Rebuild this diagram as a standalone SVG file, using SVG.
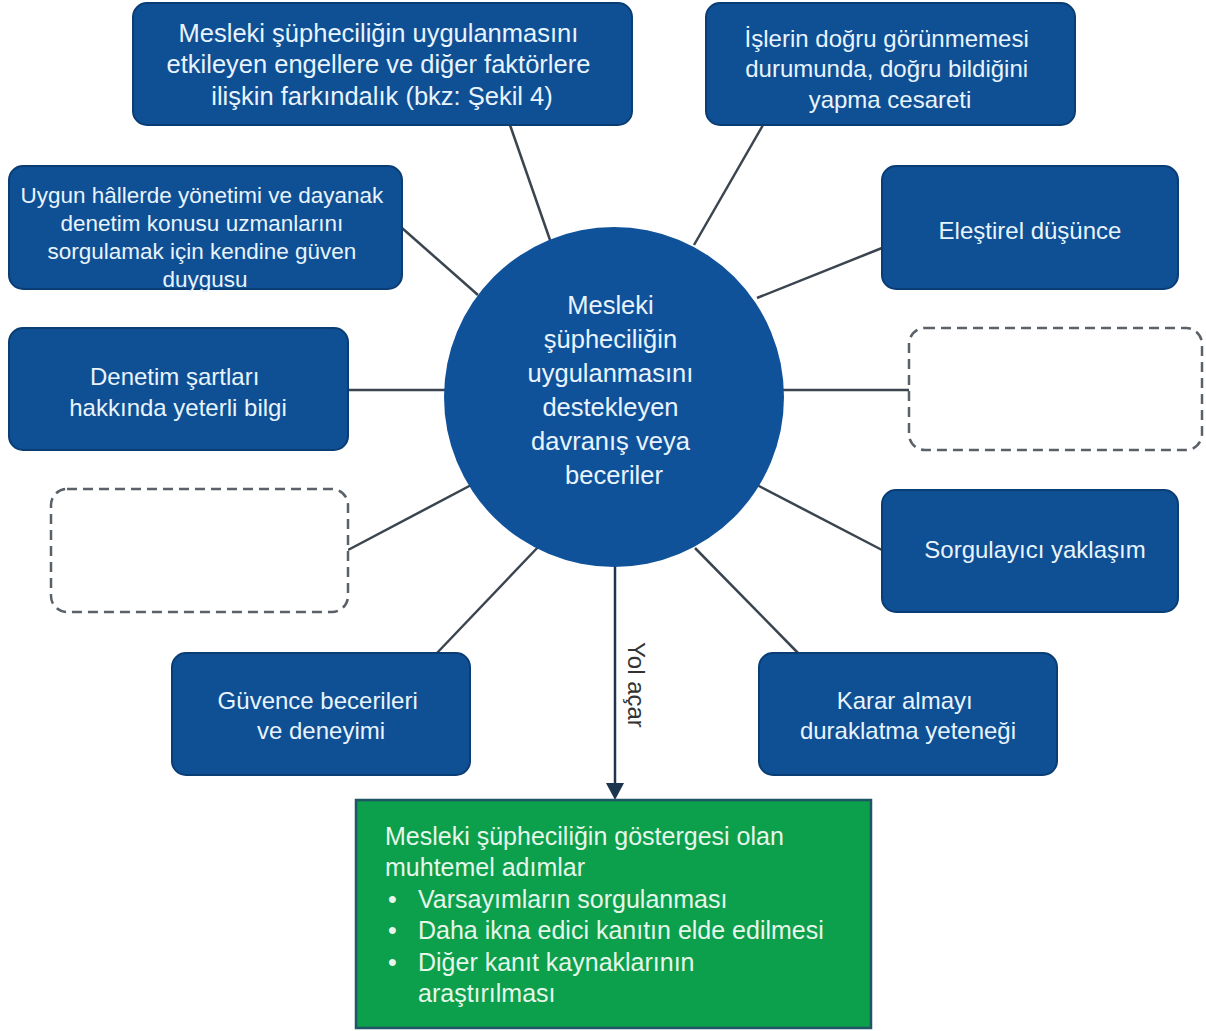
<svg xmlns="http://www.w3.org/2000/svg" width="1206" height="1031" viewBox="0 0 1206 1031">
<style>
.box{fill:#0f4f93;stroke:#0b3d75;stroke-width:2}
.dash{fill:#ffffff;stroke:#5a6169;stroke-width:2.5;stroke-dasharray:10 6}
.t{font-family:"Liberation Sans",Arial,sans-serif;fill:#e8f4ff;text-anchor:middle}
.g{font-family:"Liberation Sans",Arial,sans-serif;fill:#e6f7ea;font-size:25px}
.conn{stroke:#3a4550;stroke-width:2.5;fill:none}
</style>
<rect width="1206" height="1031" fill="#ffffff"/>
<g id="connectors">
<line class="conn" x1="510" y1="125" x2="550" y2="240"/>
<line class="conn" x1="763" y1="125" x2="694" y2="245"/>
<line class="conn" x1="402" y1="228" x2="478" y2="295"/>
<line class="conn" x1="882" y1="248" x2="757" y2="298"/>
<line class="conn" x1="348" y1="390" x2="450" y2="390"/>
<line class="conn" x1="909" y1="390" x2="780" y2="390"/>
<line class="conn" x1="348" y1="550" x2="475" y2="483"/>
<line class="conn" x1="882" y1="550" x2="757" y2="485"/>
<line class="conn" x1="437" y1="653" x2="540" y2="545"/>
<line class="conn" x1="798" y1="653" x2="695" y2="548"/>
<line x1="615" y1="560" x2="615" y2="786" stroke="#1e3550" stroke-width="2.5"/>
<polygon points="606,783 624,783 615,800" fill="#1e3550"/>
<text transform="translate(628,642) rotate(90)" font-family="Liberation Sans, Arial, sans-serif" font-size="24" fill="#333333">Yol açar</text>
</g>
<g id="center">
<circle cx="614" cy="397" r="170" fill="#10529a"/>
<text class="t" font-size="25.5">
<tspan x="614" y="314">Mesleki</tspan>
<tspan x="614" y="348">şüpheciliğin</tspan>
<tspan x="614" y="382">uygulanmasını</tspan>
<tspan x="614" y="416">destekleyen</tspan>
<tspan x="614" y="450">davranış veya</tspan>
<tspan x="614" y="484">beceriler</tspan>
</text>
</g>
<g id="n1">
<rect class="box" x="133" y="3" width="499" height="122" rx="14"/>
<text class="t" font-size="25.5">
<tspan x="382" y="42">Mesleki şüpheciliğin uygulanmasını</tspan>
<tspan x="382" y="73">etkileyen engellere ve diğer faktörlere</tspan>
<tspan x="382" y="105">ilişkin farkındalık (bkz: Şekil 4)</tspan>
</text>
</g>
<g id="n2">
<rect class="box" x="706" y="3" width="369" height="122" rx="14"/>
<text class="t" font-size="24">
<tspan x="890" y="47">İşlerin doğru görünmemesi</tspan>
<tspan x="890" y="77">durumunda, doğru bildiğini</tspan>
<tspan x="890" y="108">yapma cesareti</tspan>
</text>
</g>
<g id="n3">
<rect class="box" x="9" y="166" width="393" height="123" rx="14"/>
<text class="t" font-size="22.5">
<tspan x="205" y="203">Uygun hâllerde yönetimi ve dayanak</tspan>
<tspan x="205" y="231">denetim konusu uzmanlarını</tspan>
<tspan x="205" y="259">sorgulamak için kendine güven</tspan>
<tspan x="205" y="287">duygusu</tspan>
</text>
</g>
<g id="n4">
<rect class="box" x="882" y="166" width="296" height="123" rx="14"/>
<text class="t" font-size="24" x="1030" y="239">Eleştirel düşünce</text>
</g>
<g id="n5">
<rect class="box" x="9" y="328" width="339" height="122" rx="14"/>
<text class="t" font-size="24">
<tspan x="178" y="385">Denetim şartları</tspan>
<tspan x="178" y="416">hakkında yeterli bilgi</tspan>
</text>
</g>
<g id="n6">
<rect class="dash" x="909" y="328" width="293" height="122" rx="16"/>
</g>
<g id="n7">
<rect class="dash" x="51" y="489" width="297" height="123" rx="16"/>
</g>
<g id="n8">
<rect class="box" x="882" y="490" width="296" height="122" rx="14"/>
<text class="t" font-size="24" x="1035" y="558">Sorgulayıcı yaklaşım</text>
</g>
<g id="n9">
<rect class="box" x="172" y="653" width="298" height="122" rx="14"/>
<text class="t" font-size="24">
<tspan x="321" y="709">Güvence becerileri</tspan>
<tspan x="321" y="739">ve deneyimi</tspan>
</text>
</g>
<g id="n10">
<rect class="box" x="759" y="653" width="298" height="122" rx="14"/>
<text class="t" font-size="24">
<tspan x="908" y="709">Karar almayı</tspan>
<tspan x="908" y="739">duraklatma yeteneği</tspan>
</text>
</g>
<g id="result">
<rect x="356" y="800" width="515" height="228" fill="#0c9f4c" stroke="#1f5566" stroke-width="2.5"/>
<text class="g">
<tspan x="385" y="845">Mesleki şüpheciliğin göstergesi olan</tspan>
<tspan x="385" y="876">muhtemel adımlar</tspan>
<tspan x="388" y="908">•</tspan><tspan x="418" y="908">Varsayımların sorgulanması</tspan>
<tspan x="388" y="939">•</tspan><tspan x="418" y="939">Daha ikna edici kanıtın elde edilmesi</tspan>
<tspan x="388" y="971">•</tspan><tspan x="418" y="971">Diğer kanıt kaynaklarının</tspan>
<tspan x="418" y="1002">araştırılması</tspan>
</text>
</g>
</svg>
